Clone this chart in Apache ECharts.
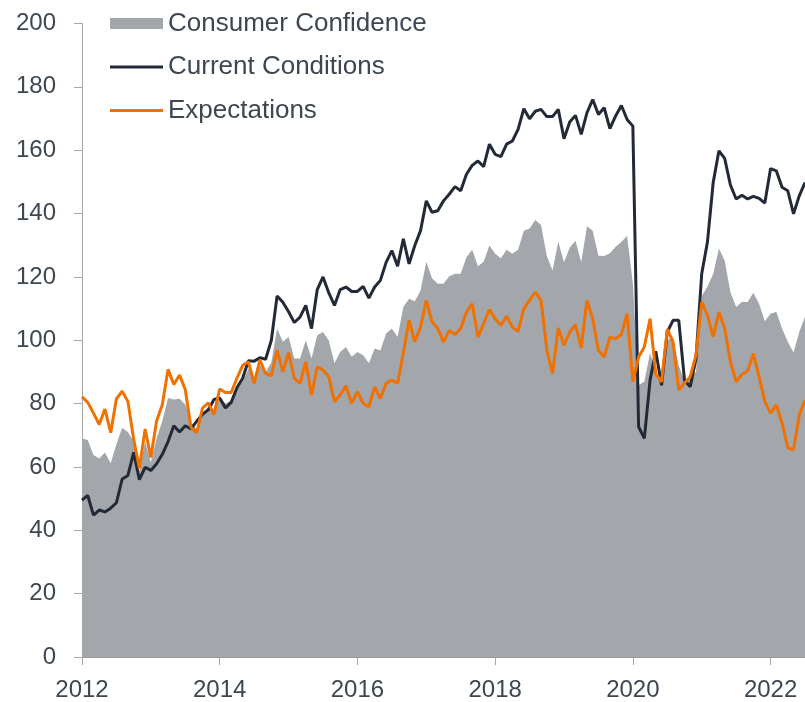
<!DOCTYPE html>
<html>
<head>
<meta charset="utf-8">
<script src="https://cdn.jsdelivr.net/npm/echarts@6/dist/echarts.min.js"></script>
<style>
  html, body { margin: 0; padding: 0; background: #fff; }
  #chart { width: 805px; height: 702px; }
</style>
</head>
<body>
<div id="chart"></div>
<script>
// monthly, Jan 2012 .. Jul 2022
const startYear = 2012;
const monthCount = 127;
const yTicks = [0, 20, 40, 60, 80, 100, 120, 140, 160, 180, 200];

const consumerConfidence = [
  69, 68.5, 63.8, 62.7, 64.6, 61.2, 67.2, 72.4, 71, 68, 58.6, 68,
  61.5, 69, 74.5, 81.8, 81.3, 81.5, 79.7, 74, 72, 77, 79, 78,
  82, 80, 81, 85, 87, 91, 88, 92, 90, 93, 103.7, 99.5,
  101, 94.2, 94.2, 100, 94.2, 101.6, 102.6, 100, 92.7, 96.3, 97.9, 94.8,
  96.3, 95.3, 92.7, 97.4, 96.8, 102.1, 103.7, 101, 110.5, 113.1, 112.3, 115.7,
  124.8, 119.6, 117.8, 117.8, 120.2, 121, 121, 126.2, 128.6, 123.4, 124.8, 129.9,
  127.3, 125.9, 128.6, 127.3, 128.6, 134.6, 135.3, 138, 136.4, 126.7, 122, 131.1,
  124.6, 129.3, 131.4, 124.6, 136, 134.6, 126.7, 126.6, 127.5, 129.5, 131, 133,
  118, 85.8, 87, 96, 90, 86, 100, 101, 92, 87, 88.5, 90,
  114, 117, 121, 129, 125.2, 115.2, 110.5, 112.1, 112.1, 115, 111.5, 106,
  108.4, 109, 103.7, 99.5, 96.1, 102.6, 107.4
];

const currentConditions = [
  49.5, 51, 44.8, 46.4, 45.8, 47, 48.7, 56.2, 57.3, 64.6, 56, 59.9,
  58.9, 61, 64, 68, 73, 71, 73, 72, 74.5, 76.6, 78, 81.3,
  81.8, 78.6, 80.4, 85, 88, 93.5, 93.4, 94.5, 94, 100, 114, 112,
  109, 105.6, 107.3, 111, 103.7, 116, 120, 115, 111, 116, 116.8, 115.4,
  115.4, 117, 113.3, 116.8, 118.9, 124.6, 128.3, 123.4, 132, 124.1, 129.9, 134.6,
  144, 140.4, 140.9, 144, 146.1, 148.5, 147.2, 152.4, 155.2, 156.6, 154.8, 161.9,
  158.7, 158, 161.9, 162.9, 166.6, 173.1, 169.9, 172.3, 172.9, 170.6, 170.6, 172.9,
  163.6, 168.9, 171, 165, 171.8, 176, 171.3, 173.4, 166.8, 170.8, 174.1, 169.7,
  167.6, 72.7, 69, 87.4, 96.5, 85.8, 102.6, 106.3, 106.3, 87.4, 85.3, 94.2,
  121, 131, 149.8, 159.8, 157.4, 149, 144.6, 145.8, 144.6, 145.4, 144.8, 143.3,
  154.2, 153.5, 148.3, 147.2, 139.9, 145.6, 149.8
];

const expectations = [
  82.1, 80.4, 77, 73.4, 78.3, 70.8, 81.5, 83.9, 80.7, 68.8, 59.6, 72,
  63, 74.5, 79.7, 90.8, 86, 89, 84.4, 72.4, 70.8, 78.6, 80.2, 76.6,
  84.6, 83.5, 83.5, 88, 92.1, 93.2, 86.4, 93.7, 89.5, 88.8, 96.9, 90,
  96.1, 88, 86.4, 93.2, 82.7, 91.6, 90.6, 88.5, 80.6, 82.7, 85.6, 80.1,
  83.8, 80.1, 79, 85.3, 81.6, 86.4, 87.4, 86.4, 96, 106.3, 99.5, 104.2,
  112.6, 105.8, 103.7, 99.5, 103.1, 101.8, 103.7, 108.9, 111.5, 101, 105.2, 109.7,
  106.8, 104.7, 107.6, 104.2, 102.8, 110, 112.6, 115.2, 112.6, 97, 89.5, 103.9,
  98.4, 102.6, 104.9, 97.6, 112.6, 106.8, 96.8, 94.7, 101, 100.5, 101.8, 108.4,
  86.9, 94.7, 97.9, 106.8, 89.3, 86.9, 103.5, 99.5, 84.3, 86.4, 88.5, 95.3,
  112.1, 107.9, 101.1, 108.9, 103.7, 93.2, 86.9, 89.2, 90.3, 95.8, 88.5, 80.6,
  77, 79.6, 73.8, 66.1, 65.4, 76.4, 81.1
];

const months = [];
for (let i = 0; i < monthCount; i++) {
  const y = startYear + Math.floor(i / 12);
  const m = (i % 12) + 1;
  months.push(y + '-' + (m < 10 ? '0' + m : m));
}

const textColor = '#3d4752';
const axisColor = '#a6a6a6';
const fontFamily = '"Liberation Sans", Arial, sans-serif';

const chart = echarts.init(document.getElementById('chart'));
const option = {
  animation: false,
  grid: { left: 82, right: 0, top: 23.5, bottom: 42.5 },
  legend: {
    orient: 'vertical',
    left: 110,
    top: 10.5,
    padding: 0,
    itemWidth: 53,
    itemHeight: 11,
    itemGap: 17.5,
    textStyle: { color: textColor, fontSize: 26, lineHeight: 26, fontFamily: fontFamily },
    data: [
      { name: 'Consumer Confidence', icon: 'rect', itemStyle: { color: '#a3a7ab' } },
      { name: 'Current Conditions', icon: 'path://M0 0H53V3H0Z', itemStyle: { color: '#232a37' } },
      { name: 'Expectations', icon: 'path://M0 0H53V3H0Z', itemStyle: { color: '#f07000' } }
    ]
  },
  xAxis: {
    type: 'category',
    data: months,
    boundaryGap: false,
    axisLine: { lineStyle: { color: '#999999', width: 1 } },
    axisTick: {
      length: 8,
      interval: (i) => i % 24 === 0,
      lineStyle: { color: axisColor }
    },
    axisLabel: {
      interval: (i) => i % 24 === 0,
      formatter: (v) => v.slice(0, 4),
      color: textColor,
      fontSize: 24,
      fontFamily: fontFamily,
      margin: 21
    },
    splitLine: { show: false }
  },
  yAxis: {
    type: 'value',
    min: yTicks[0],
    max: yTicks[yTicks.length - 1],
    interval: yTicks[1] - yTicks[0],
    axisLine: { show: true, lineStyle: { color: axisColor } },
    axisTick: { show: true, length: 8, lineStyle: { color: axisColor } },
    axisLabel: { color: textColor, fontSize: 24, fontFamily: fontFamily, margin: 26 },
    splitLine: { show: false }
  },
  series: [
    {
      name: 'Consumer Confidence',
      type: 'line',
      data: consumerConfidence,
      symbol: 'none',
      color: '#a3a7ab',
      lineStyle: { width: 0 },
      areaStyle: { color: '#a3a7ab', opacity: 1 },
      z: 1
    },
    {
      name: 'Current Conditions',
      type: 'line',
      data: currentConditions,
      symbol: 'none',
      color: '#232a37',
      lineStyle: { width: 3, color: '#232a37' },
      z: 2
    },
    {
      name: 'Expectations',
      type: 'line',
      data: expectations,
      symbol: 'none',
      color: '#f07000',
      lineStyle: { width: 3, color: '#f07000' },
      z: 3
    }
  ]
};
chart.setOption(option);
</script>
</body>
</html>
